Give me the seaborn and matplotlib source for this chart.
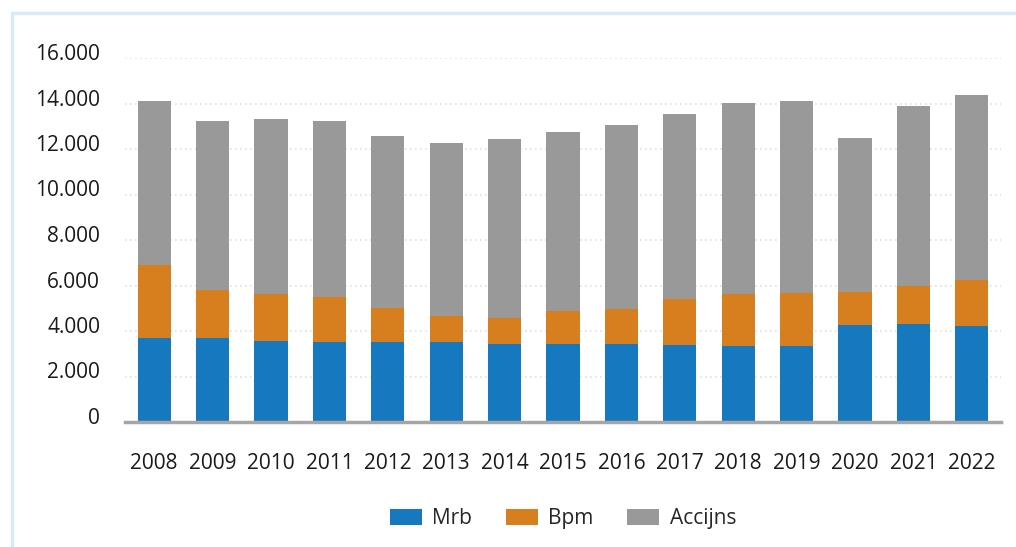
import matplotlib
matplotlib.use("Agg")
import matplotlib.pyplot as plt
import matplotlib.transforms as mtransforms
from matplotlib.patches import Rectangle, Patch
import seaborn as sns

years = ["2008", "2009", "2010", "2011", "2012", "2013", "2014", "2015",
         "2016", "2017", "2018", "2019", "2020", "2021", "2022"]
mrb = [3710, 3710, 3570, 3530, 3530, 3530, 3440, 3440, 3440, 3380, 3340, 3340, 4260, 4320, 4230]
bpm = [3190, 2110, 2070, 1960, 1490, 1130, 1140, 1440, 1530, 2030, 2300, 2330, 1470, 1670, 2020]
accijns = [7210, 7410, 7680, 7740, 7550, 7600, 7860, 7870, 8080, 8130, 8380, 8440, 6750, 7900, 8120]

series_names = ["Mrb", "Bpm", "Accijns"]
colors = ["#1679c0", "#d77f1f", "#999999"]
y_ticks = [0, 2000, 4000, 6000, 8000, 10000, 12000, 14000, 16000]
y_labels = ["0", "2.000", "4.000", "6.000", "8.000", "10.000", "12.000", "14.000", "16.000"]

sns.set_style("white")
plt.rcParams["font.family"] = ["Open Sans", "DejaVu Sans"]

fig = plt.figure(figsize=(10.16, 5.47), dpi=100)
ax = fig.add_axes([125 / 1016, 1 - 422 / 547, 876 / 1016, 364 / 547])

# stacked bars: draw cumulative totals from top layer down
level1 = mrb
level2 = [a + b for a, b in zip(mrb, bpm)]
level3 = [a + b + c for a, b, c in zip(mrb, bpm, accijns)]
for vals, col in zip([level3, level2, level1], colors[::-1]):
    sns.barplot(x=years, y=vals, color=col, width=0.566, saturation=1,
                linewidth=0, ax=ax, zorder=2)

ax.set_ylim(0, 16000)
ax.set_xlim(-0.5, 14.5)
ax.set_yticks(y_ticks)
ax.set_yticklabels(y_labels)
ax.set_xlabel("")
ax.set_ylabel("")
ax.yaxis.grid(True, linestyle=(0, (1, 2)), color="#e0e0e0", linewidth=1.2, zorder=0)
ax.set_axisbelow(True)
for side in ["left", "right", "top"]:
    ax.spines[side].set_visible(False)
ax.spines["bottom"].set_color("#a6a6a6")
ax.spines["bottom"].set_linewidth(2.5)
ax.spines["bottom"].set_zorder(3)
ax.tick_params(axis="y", length=0, pad=18, labelsize=15, labelcolor="#1a1a1a")
ax.tick_params(axis="x", length=0, pad=22, labelsize=15, labelcolor="#1a1a1a")

offset = mtransforms.ScaledTranslation(0, 6 / 100, fig.dpi_scale_trans)
for lab in ax.get_yticklabels():
    lab.set_transform(lab.get_transform() + offset)

handles = [Patch(facecolor=c, edgecolor="none") for c in colors]
ax.legend(handles, series_names, loc="center", bbox_to_anchor=(0.5, -0.266),
          ncol=3, frameon=False, fontsize=15, handlelength=1.55, handleheight=0.75,
          handletextpad=0.5, columnspacing=1.6)

# light blue frame around the chart area
fig.patches.append(Rectangle((12 / 1016, -0.1), 1.2, (547 - 13) / 547 + 0.1,
                             transform=fig.transFigure, fill=False,
                             edgecolor="#d6eaf7", linewidth=2.5))

fig.savefig("out.png", dpi=100)
